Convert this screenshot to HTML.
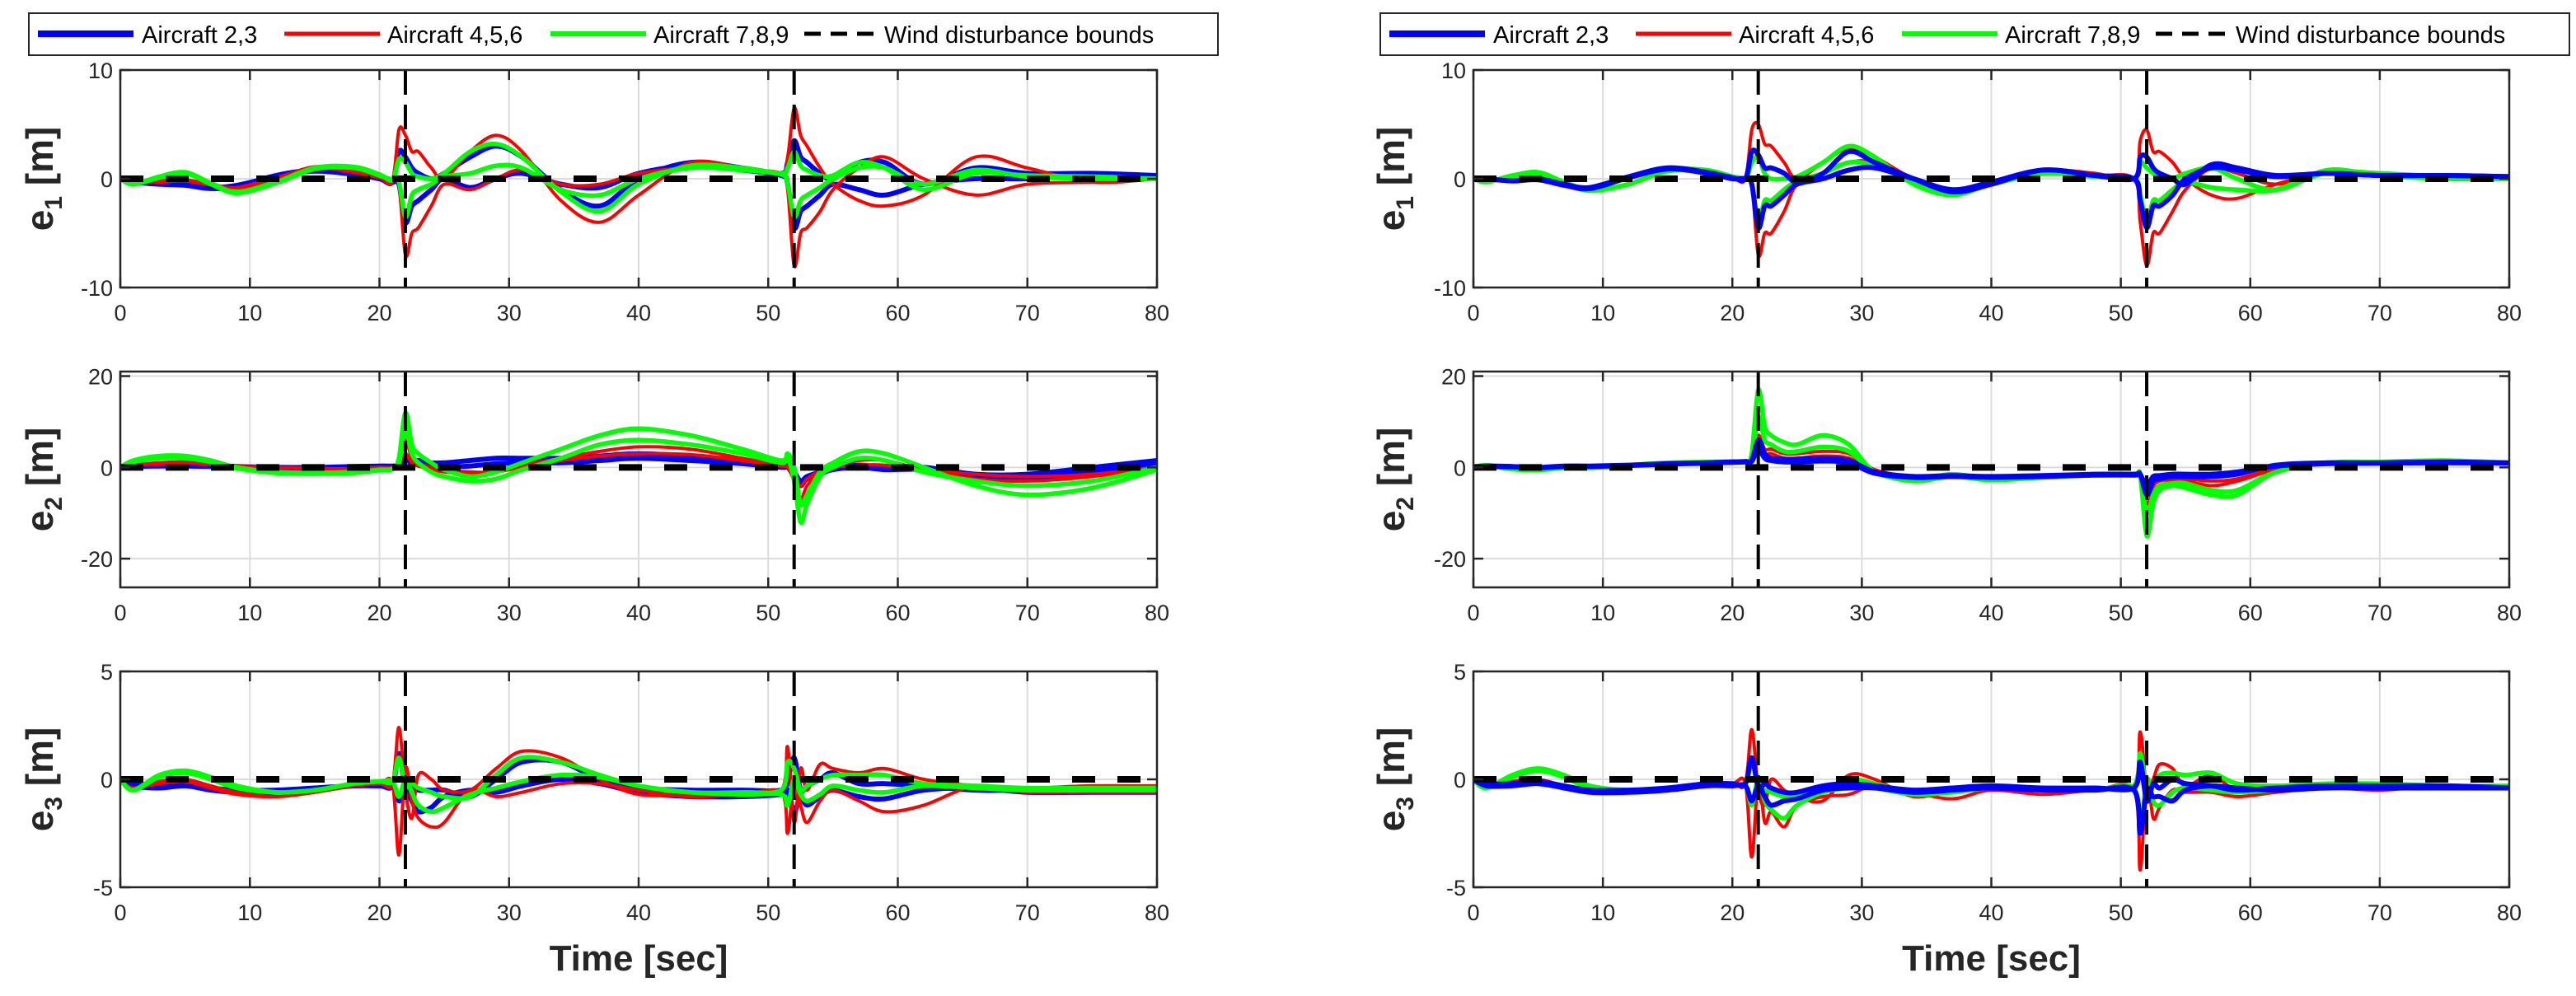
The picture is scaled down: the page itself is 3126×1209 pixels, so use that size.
<!DOCTYPE html>
<html><head><meta charset="utf-8">
<style>
html,body{margin:0;padding:0;background:#fff;}
svg{display:block;font-family:"Liberation Sans",sans-serif;}
</style></head>
<body>
<svg id="chart" width="3126" height="1209" viewBox="0 0 3126 1209" xmlns="http://www.w3.org/2000/svg"></svg>
<script>
const T=[0,1,3,5,7,9,12,15,18,20,21,21.5,22,22.5,23,24,25,27,29,31,34,37,40,44,48,51,51.5,52,52.5,53,54,55,57,59,62,66,70,75,80];
const xTicks=[0,10,20,30,40,50,60,70,80];
const disturbanceTimes=[22,52];
const e1Ticks=[-10,0,10];
const e2Ticks=[-20,0,20];
const e3Ticks=[-5,0,5];
const legendLabels=["Aircraft 2,3","Aircraft 4,5,6","Aircraft 7,8,9","Wind disturbance bounds"];

const L1_blueA=[0,-0.3,-0.5,-0.6,-0.9,-0.7,0.3,0.8,0.5,0,-0.3,2.5,2,1,0.5,0,0.5,2,3,2,-1,-2.5,0,1.5,1,0.5,1.5,3.5,2,1.5,0.5,0,1.5,1.5,-0.5,1,0.5,0.5,0.3];
const L1_blueB=[0,-0.2,-0.4,-0.5,-0.8,-0.6,0.2,0.7,0.4,0,-0.3,-0.5,-4,-2.5,-2,-1,0,-0.8,0,0.5,-0.5,-0.8,0.5,1.2,0.8,0.3,-0.5,-4.5,-3,-2.5,-1.5,-0.5,-1,-1.5,-0.5,0,0,0.3,0.3];
const L1_redA=[0,-0.2,-0.3,-0.2,-0.6,-0.9,0,1.1,0.7,0.1,-0.2,4.5,4,2.5,2.5,1,0,2.5,4,2.5,-2,-4,-1.5,1.5,1,0.5,2,6.5,4,3,1,-0.5,-2,-2.5,-1.5,2,1,-0.3,0];
const L1_redB=[0,-0.3,-0.2,-0.1,-0.5,-0.8,0.1,1.0,0.6,0.1,-0.2,-0.5,-7,-5,-4.5,-2.5,-0.5,-1,0,0.8,-0.5,-0.5,0.5,1,0.8,0.5,-1,-8,-5,-4.5,-3,-1,1,2,0,-1.5,-0.5,-0.3,0];
const L1_greenA=[0,-0.5,0.2,0.6,-0.4,-1.2,-0.3,1.0,1.1,0.4,-0.1,1.8,1.5,0.5,0.2,0,0.5,2.5,3.2,2,-1.2,-3,-0.5,1.2,1,0.5,1,2.5,1.2,0.8,0.3,0.3,1.5,1,-1,0.5,0.3,0.2,0];
const L1_greenB=[0,-0.5,0.1,0.5,-0.5,-1.3,-0.4,0.9,1.0,0.3,-0.1,-0.3,-3.5,-1.5,-1,-0.5,0.2,0.5,1.2,1,-1,-1.5,0,1,0.8,0.4,-0.5,-3.5,-2,-1.5,-0.8,0,1,1,-0.5,0.8,0.2,0,0];

const R1_blueA=[0,0,-0.2,0,-0.5,-0.8,0.2,1,0.6,0.1,0,2.5,2.2,1,1,0.5,-0.3,0.5,2.5,1.5,0,-1.2,-0.5,0.8,0.3,0,2,2,1,0.5,0,-0.5,1.3,1,0.3,0.5,0.3,0.3,0.2];
const R1_blueB=[0,0,-0.2,-0.1,-0.6,-0.9,0.1,0.9,0.5,0,0,-0.5,-4.5,-2.5,-2.5,-1.5,-0.5,0,0.8,1,0,-1,-0.3,0.8,0.3,0,-2,-4.5,-2.5,-2.5,-1.5,0,1,0.8,0.2,0.5,0.3,0.3,0.2];
const R1_redA=[0,0,-0.2,0.1,-0.5,-0.8,0.2,1,0.6,0.1,0,4.5,5,3.2,3,1.5,0,1.5,2.8,2,0,-1,-0.3,0.8,0.5,0,3.5,4.5,2.5,2.5,1.5,0,-1.5,-1.8,-0.5,0.6,0.3,0,0];
const R1_redB=[0,0,-0.2,0,-0.5,-0.8,0.2,1,0.6,0.1,0,-0.5,-7,-5,-5,-3,-0.5,0.5,1.5,1.5,0,-1,-0.3,0.7,0.3,0,-4,-8,-5,-5,-3,-1,1,0.5,-0.5,0.5,0.3,0,0];
const R1_greenA=[0,-0.3,0.3,0.6,-0.3,-1.0,-0.5,0.8,0.8,0.2,0,1.5,2,0.5,0,0,0.2,1.5,3,2,-0.5,-1.5,-0.5,0.5,0.3,0,1.5,1,0.5,0,0,0.5,1,0,-1,0.6,0.5,0.2,0];
const R1_greenB=[0,-0.3,0.2,0.5,-0.4,-1.1,-0.5,0.7,0.7,0.2,0,-0.5,-4,-2,-2,-1,-0.2,0.5,1.5,1.2,-0.3,-1.2,-0.5,0.5,0.2,0,-1.5,-4,-2,-2,-1,-0.3,-0.8,-1,-1,0.8,0.3,0,0];

const L2_blueA=[0,0.3,0.5,0.5,0.4,0.2,0,0,0.2,0.3,0.3,0.5,2,1.5,1.5,1,1,1.5,2,2,2,2.5,3,2.5,1.5,0.5,0.3,-1,-3,-2,-1,0,0.5,0,0,-1.5,-1.5,0,1.5];
const L2_blueB=[0,0.2,0.3,0.3,0.2,0,-0.2,-0.2,0,0.2,0.2,0.3,1.5,1,0.8,0.3,0,0.3,0.8,1,1,1.5,2,1.5,0.8,0,0,-2,-4,-2.5,-1.5,-0.5,0,-0.5,-0.5,-2,-2.5,-1,1];
const L2_redA=[0,0.5,1,1.2,0.8,0.3,0,-0.2,-0.3,0,0,1,6,2,1,0,-0.5,-1,-1,0.5,2,3.5,4.5,4,2,0.5,0,-3,-7,-4,-1,0.5,1.5,1.5,-0.5,-2.5,-3,-2,0];
const L2_redB=[0,0.4,0.8,1,0.6,0.2,-0.1,-0.3,-0.3,0,0,0.5,3,1,0.3,-0.5,-1,-1.5,-1,0,1.5,2.5,3,2.8,1.5,0.3,0,-2,-4,-2.5,-0.8,0,0.5,0.5,-0.5,-1.5,-2,-1.5,0];
const L2_greenA=[0,1.5,2.5,2.5,1.5,0,-1,-1.2,-1,-0.5,-0.3,2,12,5,3,1,-0.5,-2,-1,1,4,7,8.5,7,4,1.5,3,0,-8,-6,-1,1,3.5,3,0,-4,-6,-4.5,-0.5];
const L2_greenB=[0,1.2,2,2,1.2,-0.2,-1.2,-1.4,-1.2,-0.6,-0.4,1,8,3,1,-1,-2,-3,-2.5,-0.5,2,5,6,5,3,1,2,-3,-12,-8,-2,0,2,1.5,-1,-3,-4,-3,0];

const R2_blueA=[0,0.3,0.2,0,0.3,0.3,0.5,0.8,1,1.2,1.3,1.5,6,3,2,1.8,1.8,2,1.5,-1,-2,-1.8,-2,-1.8,-1.5,-1.5,-1.5,-6,-3,-2.5,-2,-2,-2,-1.5,0.5,1,1,1.2,1];
const R2_blueB=[0,0.2,0.1,-0.1,0.2,0.2,0.4,0.7,0.9,1.1,1.2,1.3,4,2,1.5,1.2,1.2,1.4,1,-1.3,-2.2,-2,-2.2,-2,-1.7,-1.7,-1.7,-4,-2,-1.8,-1.5,-1.5,-1.5,-1,0.3,0.8,0.9,1,0.9];
const R2_redA=[0,0.4,0.1,-0.2,0.2,0.2,0.5,0.9,1.1,1.3,1.3,2,7,4,4,3,3,3.5,3,-0.5,-2,-1.8,-2,-1.8,-1.5,-1.5,-1.5,-8,-5,-4,-3,-3,-4,-3,-0.5,1,1,1.3,1];
const R2_redB=[0,0.3,0,-0.3,0.1,0.2,0.4,0.8,1,1.2,1.3,1.5,5,3,3,2,2,2.5,2,-0.8,-2.2,-2,-2.2,-2,-1.6,-1.6,-1.6,-6,-4,-3,-2.5,-2.5,-3,-2.5,-0.3,1,1,1.2,1];
const R2_greenA=[0,0.5,-0.3,-0.5,0,0,0.5,1,1.2,1.3,1.3,3,17,9,7,5.5,5,7,5,-1,-2.5,-1.5,-2.5,-2,-1.5,-1.5,-2,-15,-8,-5,-4,-4.5,-6,-6,-1,1,1.2,1.5,1];
const R2_greenB=[0,0.4,-0.4,-0.6,-0.1,-0.1,0.4,0.9,1.1,1.2,1.2,2,11,6,5,3.5,3.5,4.5,3.5,-1,-3,-2,-2.8,-2.2,-1.7,-1.7,-1.8,-10,-6,-4,-3.5,-3.5,-5,-5,-1,1,1,1.3,1];

const L3_blueA=[0,-0.2,-0.3,-0.2,-0.4,-0.5,-0.5,-0.4,-0.3,-0.3,-0.3,1.2,-0.5,-0.3,-0.5,-0.5,-0.5,-0.8,0,0.8,0.8,0,-0.4,-0.5,-0.5,-0.5,0,1,-0.5,-0.3,0,0.3,-0.2,-0.2,-0.3,-0.5,-0.5,-0.5,-0.5];
const L3_blueB=[0,-0.3,-0.4,-0.3,-0.5,-0.6,-0.6,-0.5,-0.3,-0.3,-0.3,-1,-0.5,-1,-1.5,-1.3,-0.8,-0.5,-0.6,-0.3,0,-0.2,-0.6,-0.8,-0.8,-0.7,-0.5,-1.5,-0.8,-1.2,-0.8,-0.5,-0.8,-0.9,-0.5,-0.4,-0.6,-0.6,-0.6];
const L3_redA=[0,-0.4,-0.1,0,-0.3,-0.6,-0.8,-0.6,-0.3,-0.2,-0.2,2.4,-0.5,-1.8,0.2,0,-0.5,-0.5,0.5,1.3,1,0,-0.7,-0.7,-0.6,-0.5,1.5,-2,0.5,-0.5,0.7,0.5,0.3,0.5,0,-0.3,-0.4,-0.3,-0.3];
const L3_redB=[0,-0.4,-0.2,-0.1,-0.4,-0.7,-0.8,-0.6,-0.3,-0.2,-0.2,-3.5,0.5,-1,-1.8,-2.2,-2,-0.5,-0.8,-0.6,-0.2,-0.2,-0.5,-0.8,-0.7,-0.6,-2.5,0,-1.2,-2,-1,-0.5,-1,-1.5,-1.2,-0.3,-0.6,-0.6,-0.6];
const L3_greenA=[0,-0.5,0.2,0.4,0.1,-0.3,-0.6,-0.5,-0.2,-0.1,-0.1,1,-0.3,-0.2,-0.4,-0.6,-0.8,-0.8,0.2,1,0.8,0.2,-0.3,-0.6,-0.6,-0.5,0.8,0.5,-0.5,-0.3,0,0.2,0.2,0.2,-0.2,-0.3,-0.4,-0.4,-0.4];
const L3_greenB=[0,-0.5,0.1,0.3,0,-0.4,-0.6,-0.5,-0.2,-0.1,-0.1,-0.8,0,-0.6,-1.2,-1.5,-1.3,-0.7,-0.4,-0.1,0.2,0.1,-0.3,-0.6,-0.7,-0.7,-1.2,0,-0.7,-1,-0.7,-0.3,-0.5,-0.6,-0.3,-0.4,-0.5,-0.5,-0.5];

const R3_blueA=[0,-0.2,-0.2,-0.1,-0.3,-0.5,-0.5,-0.4,-0.2,-0.2,-0.2,1,-0.4,-0.2,-0.4,-0.6,-0.6,-0.3,-0.2,-0.3,-0.5,-0.4,-0.3,-0.4,-0.4,-0.4,0.8,-1,-0.2,-0.4,0,-0.2,-0.3,-0.5,-0.4,-0.3,-0.3,-0.3,-0.4];
const R3_blueB=[0,-0.3,-0.3,-0.2,-0.4,-0.6,-0.6,-0.5,-0.3,-0.3,-0.3,-1,-0.3,-0.8,-1.2,-1,-0.9,-0.5,-0.4,-0.4,-0.6,-0.5,-0.4,-0.5,-0.5,-0.5,-2.5,-0.5,-0.8,-0.8,-1,-0.5,-0.3,-0.4,-0.5,-0.4,-0.4,-0.4,-0.4];
const R3_redA=[0,-0.3,-0.1,0,-0.3,-0.5,-0.5,-0.4,-0.2,-0.2,-0.2,2.3,-0.5,-1.2,0,-0.5,-0.8,-1,0.2,0,-0.8,-0.5,-0.4,-0.5,-0.4,-0.3,2.2,-0.5,0,0.7,0.5,-0.3,0.2,-0.5,-0.3,-0.2,-0.3,-0.3,-0.4];
const R3_redB=[0,-0.3,-0.2,-0.1,-0.4,-0.6,-0.6,-0.5,-0.3,-0.2,-0.2,-3.6,0,-2,-1.5,-2.2,-1.2,-0.8,-0.7,-0.3,-0.6,-0.9,-0.5,-0.7,-0.5,-0.5,-4.2,0,-1.8,-1.3,-0.5,-0.6,-0.6,-0.8,-0.6,-0.4,-0.5,-0.3,-0.4];
const R3_greenA=[0,-0.4,0.2,0.5,0.2,-0.3,-0.5,-0.4,-0.2,-0.2,-0.2,0.8,-0.3,-0.5,-0.6,-0.8,-0.8,-0.5,0,-0.2,-0.6,-0.4,-0.3,-0.4,-0.4,-0.3,1.2,-0.5,-0.3,0.2,0.3,0.2,0.3,-0.2,-0.3,-0.2,-0.2,-0.3,-0.3];
const R3_greenB=[0,-0.4,0.1,0.4,0.1,-0.4,-0.6,-0.5,-0.3,-0.3,-0.3,-1.2,0,-1,-1.4,-1.8,-1.2,-0.6,-0.4,-0.4,-0.7,-0.6,-0.4,-0.5,-0.5,-0.4,-2.5,0,-1,-1.2,-0.6,-0.4,-0.5,-0.6,-0.5,-0.3,-0.4,-0.4,-0.4];

const NS="http://www.w3.org/2000/svg";
const svg=document.getElementById('chart');
function mk(tag,attrs,parent){const e=document.createElementNS(NS,tag);for(const k in attrs)e.setAttribute(k,attrs[k]);(parent||svg).appendChild(e);return e;}
function smoothPath(pts){
 let d='M'+pts[0][0].toFixed(1)+','+pts[0][1].toFixed(1);
 for(let i=0;i<pts.length-1;i++){
  const p0=pts[Math.max(0,i-1)],p1=pts[i],p2=pts[i+1],p3=pts[Math.min(pts.length-1,i+2)];
  const c1x=p1[0]+(p2[0]-p0[0])/6,c1y=p1[1]+(p2[1]-p0[1])/6;
  const c2x=p2[0]-(p3[0]-p1[0])/6,c2y=p2[1]-(p3[1]-p1[1])/6;
  d+=' C'+c1x.toFixed(1)+','+c1y.toFixed(1)+' '+c2x.toFixed(1)+','+c2y.toFixed(1)+' '+p2[0].toFixed(1)+','+p2[1].toFixed(1);
 }
 return d;
}

const COLS={blue:"#0000ff",red:"#ff0000",green:"#00ff00"};
const WID={blue:6,red:4,green:5.5};
const rows=[{top:85,bot:349},{top:451,bot:713},{top:815,bot:1077}];
const cols=[{x0:146,x1:1404,ylabX:48,order:["blue","red","green"],legX:35},{x0:1788,x1:3045,ylabX:1688,order:["red","green","blue"],legX:1675}];
const panelDefs=[
 [{lim:[-10,10],ticks:e1Ticks,sub:"1",s:{blue:[L1_blueA,L1_blueB],red:[L1_redA,L1_redB],green:[L1_greenA,L1_greenB]}},
  {lim:[-26.3,21],ticks:e2Ticks,sub:"2",s:{blue:[L2_blueA,L2_blueB],red:[L2_redA,L2_redB],green:[L2_greenA,L2_greenB]}},
  {lim:[-5,5],ticks:e3Ticks,sub:"3",s:{blue:[L3_blueA,L3_blueB],red:[L3_redA,L3_redB],green:[L3_greenA,L3_greenB]}}],
 [{lim:[-10,10],ticks:e1Ticks,sub:"1",s:{blue:[R1_blueA,R1_blueB],red:[R1_redA,R1_redB],green:[R1_greenA,R1_greenB]}},
  {lim:[-26.3,21],ticks:e2Ticks,sub:"2",s:{blue:[R2_blueA,R2_blueB],red:[R2_redA,R2_redB],green:[R2_greenA,R2_greenB]}},
  {lim:[-5,5],ticks:e3Ticks,sub:"3",s:{blue:[R3_blueA,R3_blueB],red:[R3_redA,R3_redB],green:[R3_greenA,R3_greenB]}}]
];

cols.forEach((c,ci)=>{
 const side=ci===0?'left':'right';
 rows.forEach((r,ri)=>{
  const p=panelDefs[ci][ri];
  const sx=v=>c.x0+(v-0)/(80-0)*(c.x1-c.x0);
  const sy=v=>r.bot-(v-p.lim[0])/(p.lim[1]-p.lim[0])*(r.bot-r.top);
  const g=mk('g',{});
  
  
  const clipId='clip'+ci+ri;
  const cp=mk('clipPath',{id:clipId},g);
  mk('rect',{x:c.x0,y:r.top,width:c.x1-c.x0,height:r.bot-r.top},cp);
  xTicks.forEach(t=>{const l=mk('line',{x1:sx(t),x2:sx(t),y1:r.top,y2:r.bot,stroke:'#dcdcdc','stroke-width':2},g);
   });
  p.ticks.forEach(t=>{const l=mk('line',{x1:c.x0,x2:c.x1,y1:sy(t),y2:sy(t),stroke:'#dcdcdc','stroke-width':2},g);
   });
  const sg=mk('g',{'clip-path':'url(#'+clipId+')'},g);
  c.order.forEach(col=>{
   p.s[col].forEach((arr,k)=>{
    const pts=T.map((t,i)=>[sx(t),sy(arr[i])]);
    const pl=mk('path',{d:smoothPath(pts),fill:'none',stroke:COLS[col],'stroke-width':WID[col],'stroke-linejoin':'round'},sg);
    
    
   });
  });
  const zl=mk('line',{x1:c.x0,x2:c.x1,y1:sy(0),y2:sy(0),stroke:'#000','stroke-width':8,'stroke-dasharray':'28 27'},sg);
  
  disturbanceTimes.forEach(t=>{
   const vl=mk('line',{x1:sx(t),x2:sx(t),y1:r.top,y2:r.bot,stroke:'#000','stroke-width':4,'stroke-dasharray':'30 12'},g);
   
  });
  xTicks.forEach(t=>{
   mk('line',{x1:sx(t),x2:sx(t),y1:r.bot,y2:r.bot-12,stroke:'#262626','stroke-width':2.5},g);
   mk('line',{x1:sx(t),x2:sx(t),y1:r.top,y2:r.top+12,stroke:'#262626','stroke-width':2.5},g);
   const tx=mk('text',{x:sx(t),y:r.bot+40,'text-anchor':'middle','font-size':27,fill:'#262626'},g);
   tx.textContent=t;
   
  });
  p.ticks.forEach(t=>{
   mk('line',{x1:c.x0,x2:c.x0+12,y1:sy(t),y2:sy(t),stroke:'#262626','stroke-width':2.5},g);
   mk('line',{x1:c.x1,x2:c.x1-12,y1:sy(t),y2:sy(t),stroke:'#262626','stroke-width':2.5},g);
   const ty=mk('text',{x:c.x0-9,y:sy(t)+10,'text-anchor':'end','font-size':27,fill:'#262626'},g);
   ty.textContent=t;
   
  });
  const fr=mk('rect',{x:c.x0,y:r.top,width:c.x1-c.x0,height:r.bot-r.top,fill:'none',stroke:'#262626','stroke-width':2.5},g);
  
  const cy=(r.top+r.bot)/2;
  const yl=mk('text',{x:0,y:0,transform:'translate('+(c.ylabX+16)+','+cy+') rotate(-90)','text-anchor':'middle','font-size':46,'font-weight':'bold',fill:'#262626'},g);
  
  const t1=mk('tspan',{},yl);t1.textContent='e';
  const t2=mk('tspan',{'font-size':30,dy:11},yl);t2.textContent=p.sub;
  const t3=mk('tspan',{dy:-11},yl);t3.textContent=' [m]';
 });
 const xl=mk('text',{x:(c.x0+c.x1)/2,y:1178,'text-anchor':'middle','font-size':44,'font-weight':'bold',fill:'#262626'});
 xl.textContent='Time [sec]';
 
 const lg=mk('g',{transform:'translate('+(c.legX-35)+',0)'});
 
 mk('rect',{x:35,y:16,width:1443,height:51,fill:'#fff',stroke:'#262626','stroke-width':2},lg);
 const items=[{x1:46,x2:162,tx:172,col:'#0000ff',w:8,dash:null},{x1:345,x2:461,tx:470,col:'#ff0000',w:5,dash:null},{x1:668,x2:784,tx:793,col:'#00ff00',w:6,dash:null},{x1:976,x2:1064,tx:1073,col:'#000',w:5,dash:'20 12'}];
 items.forEach((it,i)=>{
  const e=mk('g',{},lg);
  
  
  const a={x1:it.x1,x2:it.x2,y1:41,y2:41,stroke:it.col,'stroke-width':it.w};
  if(it.dash)a['stroke-dasharray']=it.dash;
  mk('line',a,e);
  const t=mk('text',{x:it.tx,y:52,'font-size':29,fill:'#000'},e);
  t.textContent=legendLabels[i];
 });
});
</script>
</body></html>
